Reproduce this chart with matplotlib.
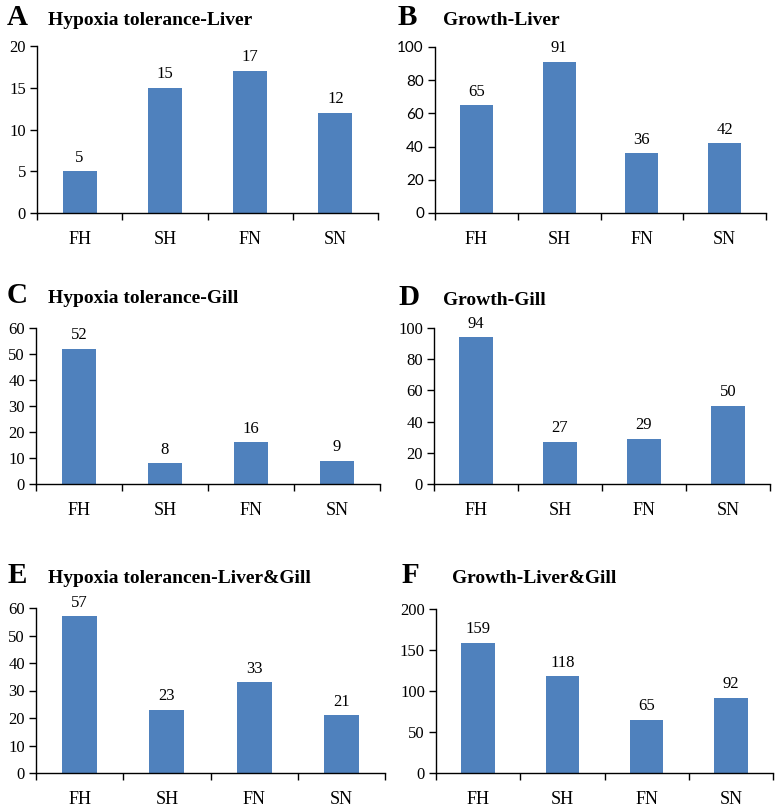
import matplotlib.pyplot as plt
import numpy as np

plt.rcParams['font.family'] = ['Liberation Serif', 'DejaVu Serif']

groupes = ['FH', 'SH', 'FN', 'SN']

## valeurs des panneaux
hypoxie_foie = [5, 15, 17, 12]
croissance_foie = [65, 91, 36, 42]
hypoxie_branchie = [52, 8, 16, 9]
croissance_branchie = [94, 27, 29, 50]
hypoxie_total = [57, 23, 33, 21]
croissance_total = [159, 118, 65, 92]

lettres = ['A', 'B', 'C', 'D', 'E', 'F']
titres = ['Hypoxia tolerance-Liver', 'Growth-Liver',
          'Hypoxia tolerance-Gill', 'Growth-Gill',
          'Hypoxia tolerancen-Liver&Gill', 'Growth-Liver&Gill']
series = [hypoxie_foie, croissance_foie, hypoxie_branchie,
          croissance_branchie, hypoxie_total, croissance_total]
ymax = [20, 100, 60, 100, 60, 200]
pas = [5, 20, 10, 20, 10, 50]

W, H = 780, 809
# boites des axes en pixels : gauche, droite, haut, bas
boites = [(37, 378, 46, 213), (435, 766, 47, 213),
          (36, 380, 328, 484), (434, 770, 328, 484),
          (36, 385, 608, 773), (436, 773, 609, 773)]
# position des lettres et titres (x lettre, x titre, ligne de base)
entetes = [(7, 48, 25), (398, 443, 25),
           (7, 48, 303), (398, 443, 305),
           (8, 48, 583), (402, 452, 583)]

bleu = '#4F81BD'

fig = plt.figure(figsize=(W/100, H/100), dpi=100)

for i in range(6):
    g, d, h, b = boites[i]
    ax = fig.add_axes([g/W, 1-b/H, (d-g)/W, (b-h)/H])
    x = np.arange(len(groupes))
    ax.bar(x, series[i], width=0.4, color=bleu)
    for xi, v in zip(x, series[i]):
        ax.annotate(str(v), (xi, v), xytext=(0, 4), textcoords='offset points',
                    ha='center', va='bottom', fontsize=12)
    ax.set_xlim(-0.5, 3.5)
    ax.set_ylim(0, ymax[i])
    ax.set_yticks(np.arange(0, ymax[i]+1, pas[i]))
    ax.tick_params(axis='y', labelsize=12, length=5, width=1, pad=3)
    # le panneau B a ses graduations en police sans empattement
    if i == 1:
        for t in ax.get_yticklabels():
            t.set_family('Lato')
            t.set_fontsize(11)
    # ticks majeurs aux frontieres, etiquettes au centre
    ax.set_xticks(np.arange(-0.5, 4, 1))
    ax.set_xticklabels([])
    ax.set_xticks(x, minor=True)
    ax.set_xticklabels(groupes, minor=True)
    ax.tick_params(axis='x', which='major', length=5, width=1)
    ax.tick_params(axis='x', which='minor', length=0, pad=13, labelsize=13)
    ax.spines['top'].set_visible(False)
    ax.spines['right'].set_visible(False)
    for s in ['left', 'bottom']:
        ax.spines[s].set_linewidth(1)
    xl, xt, yb = entetes[i]
    fig.text(xl/W, 1-yb/H, lettres[i], fontsize=21, fontweight='bold',
             ha='left', va='baseline')
    fig.text(xt/W, 1-yb/H, titres[i], fontsize=14, fontweight='bold',
             ha='left', va='baseline')

plt.savefig('out.png', dpi=100)
